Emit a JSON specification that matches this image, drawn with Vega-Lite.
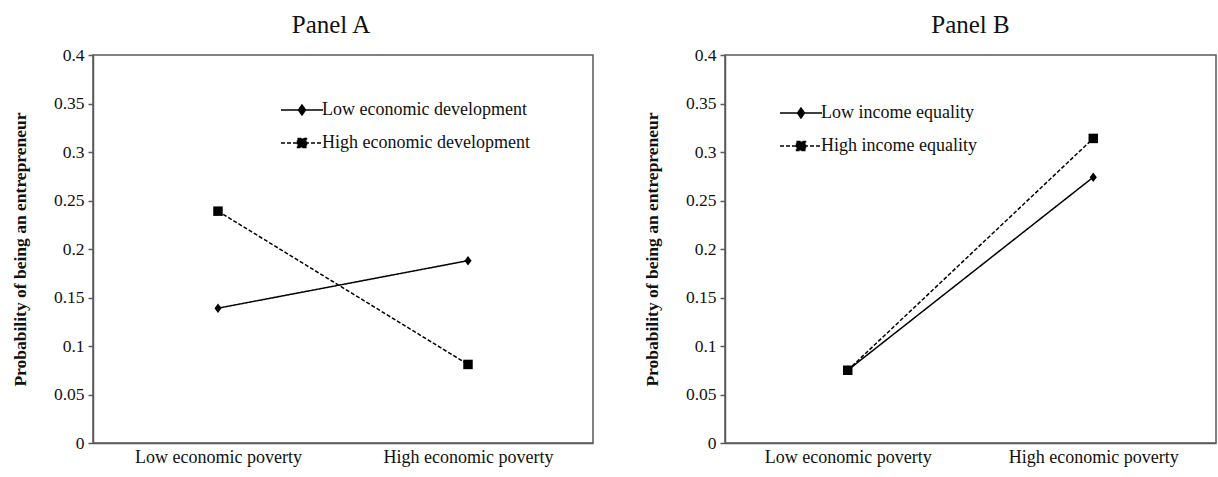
{
  "$schema": "https://vega.github.io/schema/vega-lite/v6.json",
  "background": "white",
  "padding": {"left": 10, "top": 12, "right": 0, "bottom": 0},
  "spacing": 48,
  "config": {
    "font": "Liberation Serif",
    "view": {"stroke": "#5a5a5a", "strokeWidth": 1.5},
    "axis": {
      "labelFont": "Liberation Serif", "labelColor": "#111",
      "titleFont": "Liberation Serif", "titleColor": "#111",
      "domainColor": "#5a5a5a", "domainWidth": 1.5,
      "tickColor": "#5a5a5a", "tickWidth": 1.5, "grid": false
    },
    "title": {"font": "Liberation Serif", "fontSize": 25, "fontWeight": "normal", "color": "#111"}
  },
  "resolve": {"scale": {"strokeDash": "independent", "x": "independent", "y": "independent"}, "legend": {"strokeDash": "independent"}},
  "hconcat": [
    {
      "title": {"text": "Panel A", "offset": -12, "baseline": "alphabetic", "dx": -12},
      "width": 500,
      "height": 388,
      "data": {"values": [
        {"series": "Low economic development", "poverty": "Low economic poverty", "prob": 0.139},
        {"series": "Low economic development", "poverty": "High economic poverty", "prob": 0.188},
        {"series": "High economic development", "poverty": "Low economic poverty", "prob": 0.239},
        {"series": "High economic development", "poverty": "High economic poverty", "prob": 0.081}
      ]},
      "encoding": {
        "x": {"field": "poverty", "type": "nominal", "sort": ["Low economic poverty", "High economic poverty"],
          "scale": {"type": "point", "padding": 0.5},
          "axis": {"title": null, "labelAngle": 0, "ticks": false, "labelFontSize": 18, "labelPadding": 5}},
        "y": {"field": "prob", "type": "quantitative", "scale": {"domain": [0, 0.4]},
          "axis": {"values": [0, 0.05, 0.1, 0.15, 0.2, 0.25, 0.3, 0.35, 0.4], "format": "~g",
            "labelFontSize": 17.5, "tickSize": 5, "labelPadding": 4,
            "title": "Probability  of being an entrepreneur", "titleFontSize": 17.5, "titleFontWeight": "bold", "titlePadding": 24}}
      },
      "layer": [
        {
          "mark": {"type": "line", "color": "black", "strokeWidth": 1.5},
          "encoding": {
            "strokeDash": {"field": "series", "type": "nominal",
              "scale": {"domain": ["Low economic development", "High economic development"], "range": [[1, 0], [4, 2]]},
              "legend": {
                "orient": "none", "legendX": 200, "legendY": 46, "title": null,
                "symbolSize": 196, "labelOffset": 11, "rowPadding": 15, "padding": 0, "labelLimit": 400,
                "labelFontSize": 18, "labelFont": "Liberation Serif", "labelColor": "#111",
                "symbolStrokeWidth": 1.5, "symbolFillColor": "black", "symbolStrokeColor": "black",
                "symbolType": {"expr": "datum.value === 'Low economic development' ? 'M-3,0H3M0,-0.71L0.5,0L0,0.71L-0.5,0Z' : 'M-3,0H3M-0.64,-0.64H0.64V0.64H-0.64Z'"}
              }}
          }
        },
        {
          "transform": [{"filter": "datum.series === 'Low economic development'"}],
          "mark": {"type": "point", "filled": true, "color": "black", "opacity": 1, "size": 90, "shape": "M0,-1L0.75,0L0,1L-0.75,0Z"}
        },
        {
          "transform": [{"filter": "datum.series === 'High economic development'"}],
          "mark": {"type": "point", "filled": true, "color": "black", "opacity": 1, "size": 90, "shape": "square"}
        }
      ]
    },
    {
      "title": {"text": "Panel B", "offset": -12, "baseline": "alphabetic"},
      "width": 491,
      "height": 388,
      "data": {"values": [
        {"series": "Low income equality", "poverty": "Low economic poverty", "prob": 0.075},
        {"series": "Low income equality", "poverty": "High economic poverty", "prob": 0.274},
        {"series": "High income equality", "poverty": "Low economic poverty", "prob": 0.075},
        {"series": "High income equality", "poverty": "High economic poverty", "prob": 0.314}
      ]},
      "encoding": {
        "x": {"field": "poverty", "type": "nominal", "sort": ["Low economic poverty", "High economic poverty"],
          "scale": {"type": "point", "padding": 0.5},
          "axis": {"title": null, "labelAngle": 0, "ticks": false, "labelFontSize": 18, "labelPadding": 5}},
        "y": {"field": "prob", "type": "quantitative", "scale": {"domain": [0, 0.4]},
          "axis": {"values": [0, 0.05, 0.1, 0.15, 0.2, 0.25, 0.3, 0.35, 0.4], "format": "~g",
            "labelFontSize": 17.5, "tickSize": 5, "labelPadding": 4,
            "title": "Probability  of being an entrepreneur", "titleFontSize": 17.5, "titleFontWeight": "bold", "titlePadding": 24}}
      },
      "layer": [
        {
          "mark": {"type": "line", "color": "black", "strokeWidth": 1.5},
          "encoding": {
            "strokeDash": {"field": "series", "type": "nominal",
              "scale": {"domain": ["Low income equality", "High income equality"], "range": [[1, 0], [4, 2]]},
              "legend": {
                "orient": "none", "legendX": 67, "legendY": 49, "title": null,
                "symbolSize": 196, "labelOffset": 11, "rowPadding": 15, "padding": 0, "labelLimit": 400,
                "labelFontSize": 18, "labelFont": "Liberation Serif", "labelColor": "#111",
                "symbolStrokeWidth": 1.5, "symbolFillColor": "black", "symbolStrokeColor": "black",
                "symbolType": {"expr": "datum.value === 'Low income equality' ? 'M-3,0H3M0,-0.71L0.5,0L0,0.71L-0.5,0Z' : 'M-3,0H3M-0.64,-0.64H0.64V0.64H-0.64Z'"}
              }}
          }
        },
        {
          "transform": [{"filter": "datum.series === 'Low income equality'"}],
          "mark": {"type": "point", "filled": true, "color": "black", "opacity": 1, "size": 90, "shape": "M0,-1L0.75,0L0,1L-0.75,0Z"}
        },
        {
          "transform": [{"filter": "datum.series === 'High income equality'"}],
          "mark": {"type": "point", "filled": true, "color": "black", "opacity": 1, "size": 90, "shape": "square"}
        }
      ]
    }
  ]
}
